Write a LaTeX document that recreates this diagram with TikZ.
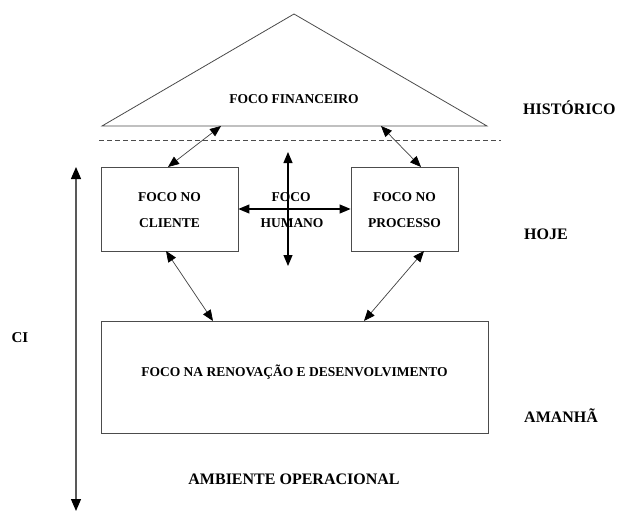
\documentclass[tikz,border=0pt]{standalone}
\usepackage{fontspec}
\setmainfont{Liberation Serif}
\usetikzlibrary{arrows.meta}
\begin{document}
\begin{tikzpicture}[x=1pt,y=-1pt,
  lbl/.style={font=\fontsize{13.5}{15}\selectfont\bfseries, align=center, inner sep=0pt},
  side/.style={font=\fontsize{16}{18}\selectfont\bfseries, anchor=west, inner sep=0pt},
  boxn/.style={draw=black!70, line width=0.8pt, inner sep=0pt},
  tip/.style={Triangle[length=11pt,width=9pt,color=black]},
  thin/.style={draw=black!75, line width=0.7pt, {Triangle[length=11pt,width=9pt,color=black]}-{Triangle[length=11pt,width=9pt,color=black]}},
  thick/.style={draw=black, line width=1.1pt, {Triangle[length=11pt,width=9pt]}-{Triangle[length=11pt,width=9pt]}}]
\useasboundingbox (0,0) rectangle (619,511);
% triangle
\coordinate (apex) at (294,14);
\coordinate (tl) at (102,126);
\coordinate (tr) at (487,126);
\draw[draw=black!70, line width=0.8pt] (tl) -- (apex) -- (tr) -- cycle;
\node[lbl] (fin) at (294,99) {FOCO FINANCEIRO};
% dashed line
\coordinate (dl) at (99,140);
\coordinate (dr) at (501,140);
\draw[draw=black!70, line width=0.7pt, dash pattern=on 5pt off 3pt] (dl) -- (dr);
% boxes
\node[boxn, minimum width=137pt, minimum height=84pt] (cli) at (169.5,209) {};
\node[lbl] at (169.5,197) {FOCO NO};
\node[lbl] at (169.5,223) {CLIENTE};
\node[boxn, minimum width=107pt, minimum height=84pt] (pro) at (404.5,209) {};
\node[lbl] at (404.5,197) {FOCO NO};
\node[lbl] at (404.5,223) {PROCESSO};
\node[lbl] (hum1) at (291,197) {FOCO};
\node[lbl] (hum2) at (292,223) {HUMANO};
\node[boxn, minimum width=387pt, minimum height=112pt] (ren) at (294.5,377) {};
\node[lbl] at (294.5,372) {FOCO NA RENOVAÇÃO E DESENVOLVIMENTO};
% connector end points
\coordinate (f1) at (221,126);
\coordinate (f2) at (381,126);
\coordinate (c1) at (168,167);
\coordinate (p1) at (421,167);
\coordinate (c2) at (166,251);
\coordinate (p2) at (424,251);
\coordinate (r1) at (213,321);
\coordinate (r2) at (364,321);
\coordinate (ht) at (288,152);
\coordinate (hb) at (288,266);
\draw[thin] (f1) -- (c1);
\draw[thin] (f2) -- (p1);
\draw[thin] (c2) -- (r1);
\draw[thin] (p2) -- (r2);
\draw[thick] (cli.east) -- (pro.west);
\draw[thick] (ht) -- (hb);
% CI arrow
\coordinate (cit) at (76,167);
\coordinate (cib) at (76,511);
\draw[draw=black!65, line width=1.3pt, {Triangle[length=12pt,width=10pt,color=black]}-{Triangle[length=12pt,width=10pt,color=black]}] (cit) -- (cib);
\node[font=\fontsize{15}{17}\selectfont\bfseries, inner sep=0pt] (ci) at (20,338) {CI};
% side labels
\node[side] (his) at (523,108) {HISTÓRICO};
\node[side] (hoj) at (524,234) {HOJE};
\node[side] (ama) at (524,416) {AMANHÃ};
\node[font=\fontsize{16}{18}\selectfont\bfseries, inner sep=0pt] (amb) at (294,479) {AMBIENTE OPERACIONAL};
\end{tikzpicture}
\end{document}
